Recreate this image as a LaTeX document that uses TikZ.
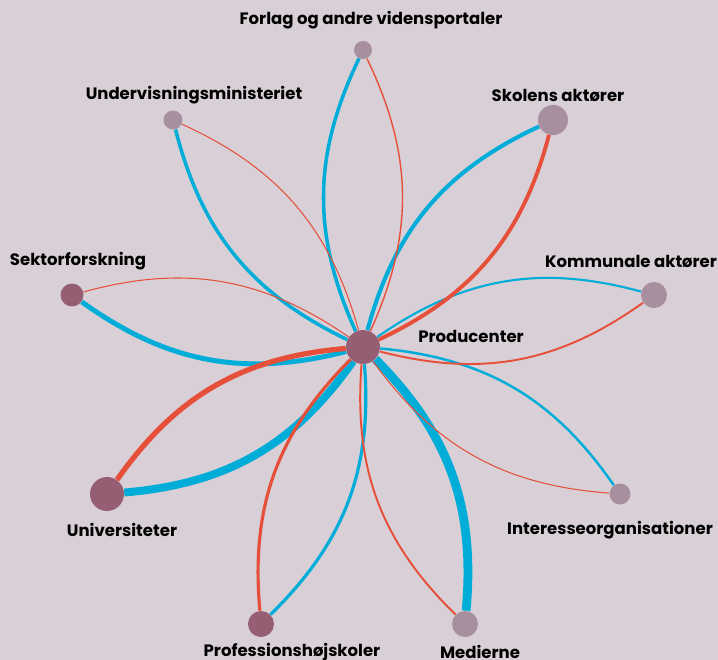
\documentclass[tikz,border=0pt]{standalone}
\usepackage{fontspec}
\setmainfont{Poppins}
\usepackage{tikz}

\definecolor{bgcol}{RGB}{216,208,214}
\definecolor{linkblue}{RGB}{0,172,216}
\definecolor{linkred}{RGB}{230,80,58}
\definecolor{darknode}{RGB}{149,94,115}
\definecolor{lightnode}{RGB}{168,143,159}

\begin{document}
\begin{tikzpicture}[x=0.02cm,y=-0.02cm,
	dot/.style={circle,inner sep=0pt,minimum size=#1},
	darkdot/.style={dot=#1,fill=darknode},
	lightdot/.style={dot=#1,fill=lightnode},
	lbl/.style={font=\fontsize{9.4}{11}\selectfont\bfseries,text=black,inner sep=0pt},
	bl/.style={draw=linkblue,bend left=25},
	rd/.style={draw=linkred,bend right=25}]
	\fill[bgcol] (0,0) rectangle (718,660);
	\useasboundingbox (0,0) rectangle (718,660);

	\node[darkdot=0.68cm] (prod) at (363,347) {};
	\node[lightdot=0.36cm] (forlag) at (363,50) {};
	\node[lightdot=0.38cm] (undervis) at (173,120) {};
	\node[lightdot=0.60cm] (skolen) at (553,120) {};
	\node[darkdot=0.46cm] (sektor) at (72,295) {};
	\node[lightdot=0.52cm] (kommune) at (654,295) {};
	\node[darkdot=0.68cm] (uni) at (107,494) {};
	\node[lightdot=0.42cm] (interesse) at (620,494) {};
	\node[darkdot=0.52cm] (prof) at (261,624) {};
	\node[lightdot=0.52cm] (medier) at (465,624) {};

	\node[lbl] (forlag-l) at (371,20) {Forlag og andre vidensportaler};
	\node[lbl] (undervis-l) at (194,95) {Undervisningsministeriet};
	\node[lbl] (skolen-l) at (558,95) {Skolens aktører};
	\node[lbl] (sektor-l) at (78,261) {Sektorforskning};
	\node[lbl] (kommune-l) at (631,261) {Kommunale aktører};
	\node[lbl] (prod-l) at (471,336) {Producenter};
	\node[lbl] (uni-l) at (122,530) {Universiteter};
	\node[lbl] (interesse-l) at (610,530) {Interesseorganisationer};
	\node[lbl] (prof-l) at (292,652) {Professionshøjskoler};
	\node[lbl] (medier-l) at (480,652) {Medierne};

	% blue links
	\path (prod) edge[bl,line width=2pt] (forlag);
	\path (prod) edge[bl,line width=2pt] (undervis);
	\path (prod) edge[bl,line width=2.3pt] (skolen);
	\path (prod) edge[bl,line width=2.8pt] (sektor);
	\path (prod) edge[bl,line width=1.2pt] (kommune);
	\path (prod) edge[bl,line width=4.5pt] (uni);
	\path (prod) edge[bl,line width=1.4pt] (interesse);
	\path (prod) edge[bl,line width=1.8pt] (prof);
	\path (prod) edge[bl,line width=5pt] (medier);
	% red links
	\path (prod) edge[rd,line width=0.8pt] (forlag);
	\path (prod) edge[rd,line width=0.6pt] (undervis);
	\path (prod) edge[rd,line width=2.2pt] (skolen);
	\path (prod) edge[rd,line width=0.6pt] (sektor);
	\path (prod) edge[rd,line width=1.1pt] (kommune);
	\path (prod) edge[rd,line width=3pt] (uni);
	\path (prod) edge[rd,line width=0.6pt] (interesse);
	\path (prod) edge[rd,line width=1.8pt] (prof);
	\path (prod) edge[rd,line width=1.1pt] (medier);
\end{tikzpicture}
\end{document}
